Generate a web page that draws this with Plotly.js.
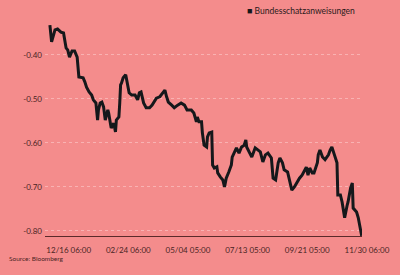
<!DOCTYPE html>
<html>
<head>
<meta charset="utf-8">
<script src="https://cdn.plot.ly/plotly-3.0.1.min.js"></script>
<style>html,body{margin:0;padding:0;background:#F48C8C;}#chart{width:400px;height:275px;}</style>
</head>
<body>
<div id="chart"></div>
<script>
const seriesName = 'Bundesschatzanweisungen';
const dates = [
'2015-11-30','2015-12-02','2015-12-06','2015-12-09','2015-12-13','2015-12-16','2015-12-19','2015-12-21','2015-12-23','2015-12-26',
'2015-12-29','2016-01-01','2016-01-03','2016-01-08','2016-01-10','2016-01-12','2016-01-15','2016-01-18','2016-01-20','2016-01-23',
'2016-01-25','2016-01-26','2016-01-28','2016-01-30','2016-02-01','2016-02-03','2016-02-06','2016-02-07','2016-02-09','2016-02-10',
'2016-02-13','2016-02-15','2016-02-16','2016-02-19','2016-02-20','2016-02-21','2016-02-22','2016-02-24','2016-02-27','2016-02-29',
'2016-03-02','2016-03-05','2016-03-09','2016-03-12','2016-03-14','2016-03-16','2016-03-19','2016-03-22','2016-03-26','2016-03-29',
'2016-04-03','2016-04-07','2016-04-10','2016-04-13','2016-04-15','2016-04-17','2016-04-21','2016-04-24','2016-04-28','2016-05-02',
'2016-05-06','2016-05-09','2016-05-14','2016-05-17','2016-05-20','2016-05-21','2016-05-23','2016-05-26','2016-05-27','2016-05-29',
'2016-06-01','2016-06-02','2016-06-04','2016-06-07','2016-06-08','2016-06-10','2016-06-13','2016-06-14','2016-06-17','2016-06-20',
'2016-06-22','2016-06-24','2016-06-27','2016-06-30','2016-07-01','2016-07-04','2016-07-06','2016-07-09','2016-07-12','2016-07-15',
'2016-07-17','2016-07-18','2016-07-22','2016-07-24','2016-07-28','2016-07-31','2016-08-03','2016-08-06','2016-08-09','2016-08-12',
'2016-08-16','2016-08-18','2016-08-21','2016-08-24','2016-08-26','2016-08-29','2016-08-31','2016-09-04','2016-09-06','2016-09-09',
'2016-09-12','2016-09-15','2016-09-18','2016-09-21','2016-09-24','2016-09-26','2016-09-28','2016-09-30','2016-10-03','2016-10-05',
'2016-10-09','2016-10-10','2016-10-12','2016-10-15','2016-10-18','2016-10-22','2016-10-24','2016-10-26','2016-10-29','2016-11-01',
'2016-11-02','2016-11-05','2016-11-07','2016-11-10','2016-11-13','2016-11-14','2016-11-17','2016-11-19','2016-11-20','2016-11-24',
'2016-11-26','2016-11-28','2016-11-30'
];
const yields = [
-0.332,-0.370,-0.343,-0.341,-0.348,-0.350,-0.384,-0.389,-0.405,-0.391,
-0.391,-0.405,-0.450,-0.452,-0.461,-0.473,-0.484,-0.491,-0.502,-0.509,
-0.548,-0.525,-0.509,-0.507,-0.518,-0.548,-0.525,-0.532,-0.555,-0.566,
-0.555,-0.575,-0.548,-0.541,-0.509,-0.468,-0.464,-0.452,-0.445,-0.464,
-0.486,-0.491,-0.491,-0.502,-0.486,-0.484,-0.509,-0.520,-0.520,-0.514,
-0.498,-0.495,-0.486,-0.480,-0.495,-0.507,-0.514,-0.520,-0.514,-0.509,
-0.514,-0.525,-0.525,-0.532,-0.552,-0.541,-0.552,-0.552,-0.577,-0.605,
-0.609,-0.586,-0.577,-0.575,-0.650,-0.657,-0.654,-0.668,-0.677,-0.684,
-0.700,-0.680,-0.666,-0.650,-0.632,-0.620,-0.611,-0.623,-0.609,-0.605,
-0.593,-0.609,-0.623,-0.632,-0.611,-0.616,-0.620,-0.643,-0.627,-0.623,
-0.634,-0.680,-0.684,-0.645,-0.634,-0.645,-0.661,-0.666,-0.684,-0.707,
-0.700,-0.689,-0.680,-0.673,-0.661,-0.655,-0.673,-0.657,-0.668,-0.668,
-0.645,-0.627,-0.616,-0.632,-0.638,-0.627,-0.616,-0.609,-0.627,-0.645,
-0.718,-0.718,-0.734,-0.770,-0.741,-0.734,-0.702,-0.691,-0.748,-0.757,
-0.770,-0.790,-0.811
];
const xTickVals = ['2015-12-16 06:00','2016-02-24 06:00','2016-05-04 05:00','2016-07-13 05:00','2016-09-21 05:00','2016-11-30 06:00'];
const xTickText = ['12/16 06:00','02/24 06:00','05/04 05:00','07/13 05:00','09/21 05:00','11/30 06:00'];
const yTickVals = [-0.4,-0.5,-0.6,-0.7,-0.8];
const yTickText = ['-0.40','-0.50','-0.60','-0.70','-0.80'];
const sourceText = 'Source: Bloomberg';

const bg = '#F48C8C';
const textColor = '#4a2424';
const fontFam = 'Lato, "Open Sans", sans-serif';

const trace = {
  x: dates, y: yields, type: 'scatter', mode: 'lines', name: seriesName,
  line: {color: '#15181b', width: 3, shape: 'linear'},
  showlegend: false, hoverinfo: 'skip'
};

const layout = {
  width: 400, height: 275,
  margin: {l: 45, r: 38, t: 20, b: 39, pad: 0},
  paper_bgcolor: bg, plot_bgcolor: bg,
  font: {family: fontFam, color: textColor, size: 8},
  showlegend: false,
  xaxis: {
    type: 'date',
    range: ['2015-11-24 06:00', '2016-11-30 09:00'],
    tickvals: xTickVals, ticktext: xTickText,
    showgrid: false, zeroline: false,
    showline: true, linecolor: '#5a2a2a', linewidth: 1,
    ticks: '', ticklabelshift: 5, ticklabelstandoff: 6,
    tickfont: {size: 8, color: textColor, family: fontFam}
  },
  yaxis: {
    range: [-0.8114, -0.3205],
    tickvals: yTickVals, ticktext: yTickText,
    showgrid: true, gridcolor: 'rgba(255,225,225,0.45)', griddash: 'dot', gridwidth: 1,
    zeroline: false, showline: false, ticks: '',
    ticklabelstandoff: 2,
    tickfont: {size: 8, color: textColor, family: fontFam}
  },
  annotations: [
    {xref: 'paper', yref: 'paper', x: 0.631, y: 1.0, yshift: 10, xanchor: 'left', yanchor: 'middle',
     text: '<span style="font-size:9px;color:#15181b">■</span> ' + seriesName, showarrow: false,
     font: {size: 8.5, color: '#2a1a1a', family: fontFam}},
    {xref: 'paper', yref: 'paper', x: 0, xshift: -38, y: 0, yshift: -22, xanchor: 'left', yanchor: 'middle',
     text: sourceText, showarrow: false,
     font: {size: 6.5, color: textColor, family: fontFam}}
  ]
};

Plotly.newPlot('chart', [trace], layout, {displayModeBar: false, staticPlot: true});
</script>
</body>
</html>
